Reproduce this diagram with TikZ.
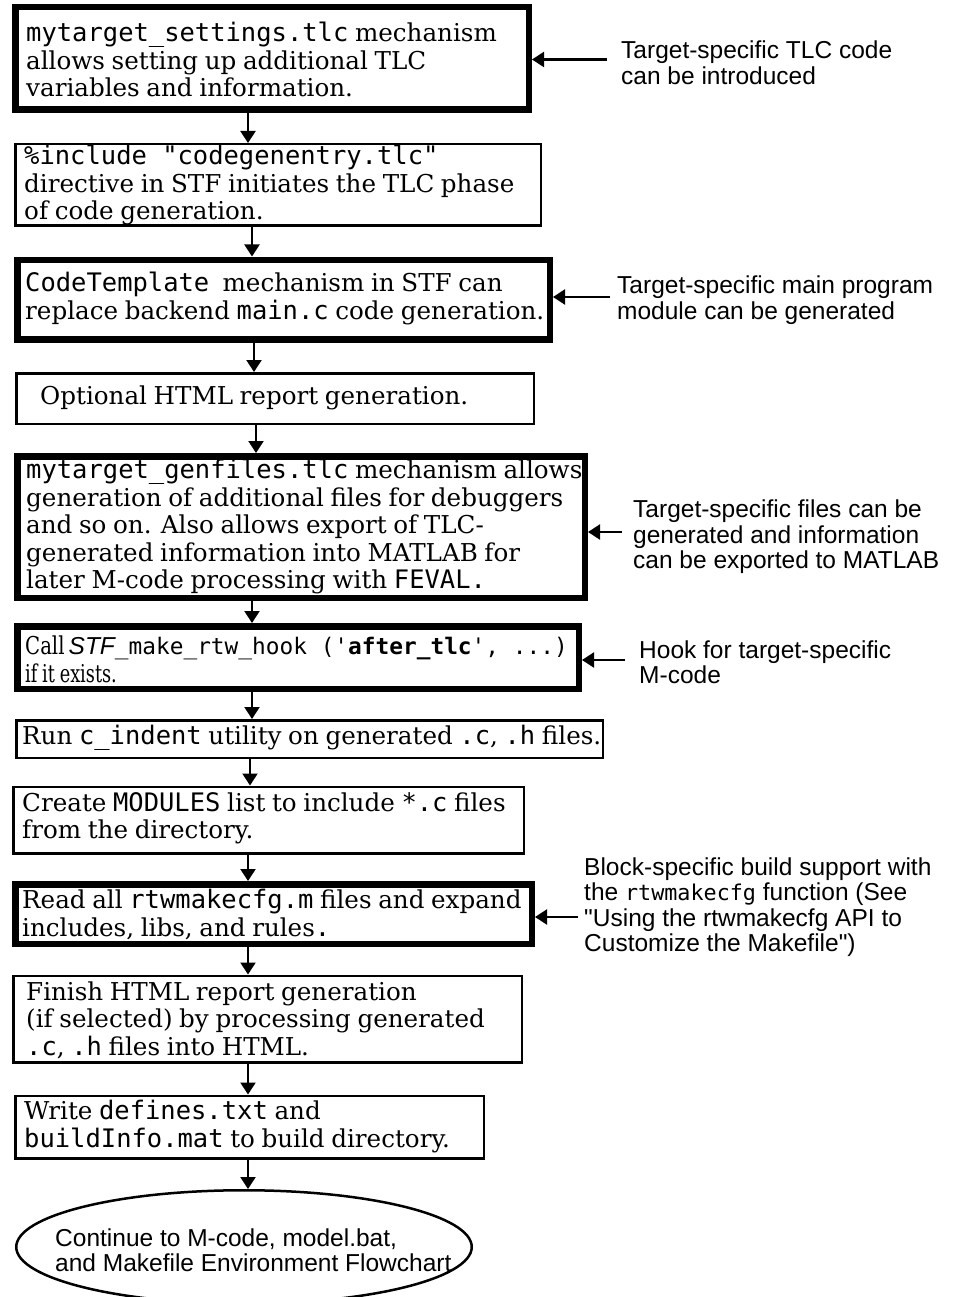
\documentclass[tikz,border=0pt]{standalone}
\usepackage{fontspec}
\setmainfont{DejaVu Serif}[WordSpace=0.85]
\newfontfamily\labfont{Liberation Sans}
\setmonofont[Scale=1.036]{DejaVu Sans Mono}
\usetikzlibrary{arrows.meta,shapes.geometric}
\lineskiplimit=-50pt
\begin{document}
\begin{tikzpicture}[x=1pt,y=-1pt,
  thickbox/.style={draw, line width=6.5pt, rectangle, inner sep=0pt},
  thinbox/.style={draw, line width=2.5pt, rectangle, inner sep=0pt},
  stxt/.style={anchor=west, inner sep=0pt, align=left, font=\fontsize{24.6}{27.5}\selectfont},
  lab/.style={anchor=west, inner sep=0pt, align=left, font=\labfont\fontsize{24.5}{25.5}\selectfont},
  arr/.style={line width=2.2pt, -{Triangle[length=12pt,width=15pt]}},
]
\useasboundingbox (0,0) rectangle (954,1297);

% boxes
\node[thickbox, minimum width=513.5pt, minimum height=102.5pt] (b1) at (272,58.5) {};
\node[thinbox, minimum width=525.5pt, minimum height=81.5pt] (b2) at (278,185) {};
\node[thickbox, minimum width=532.5pt, minimum height=79.5pt] (b3) at (283.5,299.5) {};
\node[thinbox, minimum width=517.5pt, minimum height=50.5pt] (b4) at (275,398.5) {};
\node[thickbox, minimum width=567.5pt, minimum height=141.5pt] (b5) at (301,527) {};
\node[thickbox, minimum width=561.5pt, minimum height=62.5pt] (b6) at (298,657.5) {};
\node[thinbox, minimum width=586.5pt, minimum height=37.5pt] (b7) at (309.5,739) {};
\node[thinbox, minimum width=510.5pt, minimum height=66.5pt] (b8) at (268.5,820) {};
\node[thickbox, minimum width=516.5pt, minimum height=59.5pt] (b9) at (273.5,914) {};
\node[thinbox, minimum width=508.5pt, minimum height=86.5pt] (b10) at (267.5,1019) {};
\node[thinbox, minimum width=468.5pt, minimum height=62.5pt] (b11) at (249.5,1127) {};
\node[draw, line width=2.5pt, ellipse, inner sep=0pt, minimum width=455.5pt, minimum height=113.5pt] (e) at (244,1247) {};

% box texts
\node[stxt] (t1) at (26,59.5) {\texttt{mytarget\_settings.tlc} mechanism\\allows setting up additional TLC\\variables and information.};
\node[stxt] (t2) at (24,185) {\texttt{\%include "codegenentry.tlc"}\\directive in STF initiates the TLC phase\\of code generation.};
\node[stxt] (t3) at (25,298.5) {\texttt{CodeTemplate}\ \ mechanism in STF can\\replace backend \texttt{main.c} code generation.};
\node[stxt] (t4) at (40,398) {Optional HTML report generation.};
\node[stxt] (t5) at (26,526.5) {\texttt{mytarget\_genfiles.tlc} mechanism allows\\generation of additional files for debuggers\\and so on. Also allows export of TLC-\\generated information into MATLAB for\\later M-code processing with \texttt{FEVAL.}};
\node[stxt] (t6) at (25,659.5) {\scalebox{0.8}[1]{Call}\,{\labfont\itshape\fontsize{24.5}{27}\selectfont STF}{\fontsize{22}{27}\selectfont\ttfamily\_make\_rtw\_hook ('\textbf{after\_tlc}', ...)}\\\scalebox{0.72}[1]{if it exists.}};
\node[stxt] (t7) at (22,738) {Run \texttt{c\_indent} utility on generated \texttt{.c}, \texttt{.h} files.};
\node[stxt] (t8) at (22,818.5) {Create \texttt{MODULES} list to include \texttt{*.c} files\\from the directory.};
\node[stxt] (t9) at (22,914.5) {Read all \texttt{rtwmakecfg.m} files and expand\\includes, libs, and rules\texttt{.}};
\node[stxt] (t10) at (26,1020) {Finish HTML report generation\\(if selected) by processing generated\\\texttt{.c}, \texttt{.h} files into HTML.};
\node[stxt] (t11) at (24,1126.5) {Write \texttt{defines.txt} and\\\texttt{buildInfo.mat} to build directory.};
\node[lab] (te) at (55,1250) {Continue to M-code, model.bat,\\and Makefile Environment Flowchart};

% side labels
\node[lab] (l1) at (621,62.5) {Target-specific TLC code\\can be introduced};
\node[lab] (l2) at (617,300) {Target-specific main program\\module can be generated};
\node[lab] (l3) at (633,537) {Target-specific files can be\\generated and information\\can be exported to MATLAB};
\node[lab] (l4) at (639,662) {Hook for target-specific\\M-code};
\node[lab] (l5) at (584,907) {Block-specific build support with\\the {\fontsize{21}{25}\selectfont\ttfamily rtwmakecfg} function (See\\"Using the rtwmakecfg API to\\Customize the Makefile")};

% vertical connectors
\draw[arr] (b1.south -| 248,0) -- (b2.north -| 248,0);
\draw[arr] (b2.south -| 252,0) -- (b3.north -| 252,0);
\draw[arr] (b3.south -| 254,0) -- (b4.north -| 254,0);
\draw[arr] (b4.south -| 256,0) -- (b5.north -| 256,0);
\draw[arr] (b5.south -| 252,0) -- (b6.north -| 252,0);
\draw[arr] (b6.south -| 252,0) -- (b7.north -| 252,0);
\draw[arr] (b7.south -| 250,0) -- (b8.north -| 250,0);
\draw[arr] (b8.south -| 248,0) -- (b9.north -| 248,0);
\draw[arr] (b9.south -| 248,0) -- (b10.north -| 248,0);
\draw[arr] (b10.south -| 248,0) -- (b11.north -| 248,0);
\draw[arr] (b11.south -| 248,0) -- (e.north -| 248,0);

% side connectors
\draw[arr] ([xshift=-14pt,yshift=3pt]l1.west) coordinate (s1) -- (s1 -| b1.east);
\draw[arr] ([xshift=-7pt,yshift=3pt]l2.west) coordinate (s2) -- (s2 -| b3.east);
\draw[arr] ([xshift=-11pt,yshift=5pt]l3.west) coordinate (s3) -- (s3 -| b5.east);
\draw[arr] ([xshift=-14pt,yshift=2pt]l4.west) coordinate (s4) -- (s4 -| b6.east);
\draw[arr] ([xshift=-6pt,yshift=-10pt]l5.west) coordinate (s5) -- (s5 -| b9.east);
\end{tikzpicture}
\end{document}
